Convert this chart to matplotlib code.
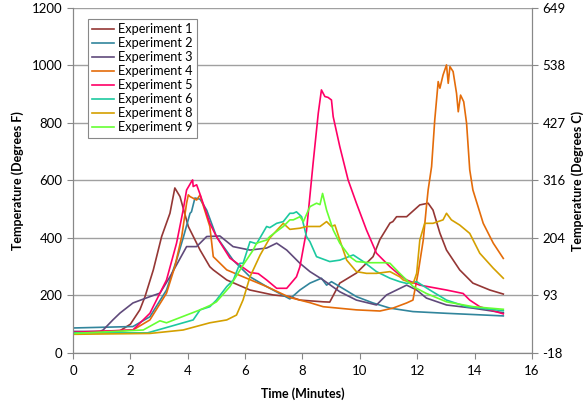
import matplotlib
matplotlib.use("Agg")
import matplotlib.pyplot as plt

# Experiment data (time in minutes, temperature in deg F)
exp1_t = [0, 1.6, 2.0, 2.33, 2.51, 2.80, 3.09, 3.38, 3.55, 3.73, 4.02, 4.31, 4.43, 4.77, 4.89,
          5.36, 6.17, 6.97, 7.56, 7.91, 8.72, 8.95, 9.30, 9.88, 10.46, 10.70, 11.05, 11.15,
          11.28, 11.63, 12.09, 12.38, 12.55, 12.79, 13.02, 13.48, 13.94, 14.53, 15.0]
exp1_T = [72, 75, 100, 150, 196, 289, 405, 486, 574, 544, 440, 382, 358, 300, 289,
          254, 219, 202, 196, 184, 178, 177, 243, 278, 335, 395, 452, 457,
          474, 474, 515, 521, 497, 417, 358, 289, 243, 219, 205]

exp2_t = [0, 2.09, 2.68, 3.26, 3.61, 3.84, 4.08, 4.13, 4.25, 4.43, 4.66, 5.0, 5.58, 6.17,
          6.75, 7.56, 7.91, 8.26, 8.66, 8.84, 9.01, 9.30, 9.88, 10.46, 11.05, 11.85, 13.02, 15.0]
exp2_T = [87, 92, 126, 219, 323, 400, 486, 491, 539, 535, 497, 405, 323, 265,
          231, 188, 219, 243, 260, 236, 248, 231, 196, 174, 156, 144, 138, 129]

exp3_t = [0, 0.94, 1.05, 1.39, 1.64, 2.09, 2.68, 3.03, 3.38, 3.96, 4.31, 4.66, 5.12, 5.58,
          6.17, 6.75, 7.10, 7.45, 7.91, 8.26, 8.72, 9.30, 9.88, 10.58, 10.93, 11.28, 11.63,
          11.98, 12.32, 13.02, 13.94, 15.0]
exp3_T = [75, 75, 80, 115, 139, 174, 196, 208, 265, 370, 370, 405, 407, 370,
          358, 365, 382, 358, 312, 283, 254, 213, 184, 167, 202, 219, 236,
          219, 191, 167, 156, 140]

exp4_t = [0, 2.09, 2.68, 3.26, 3.55, 3.79, 3.96, 4.02, 4.08, 4.31, 4.43, 4.48, 4.77, 4.89,
          5.36, 5.93, 6.75, 7.56, 8.26, 8.72, 9.88, 10.70, 11.15, 11.63, 11.85, 12.03, 12.21,
          12.32, 12.38, 12.50, 12.61, 12.73, 12.79, 12.90, 13.02, 13.08, 13.14, 13.25, 13.37,
          13.43, 13.51, 13.62, 13.72, 13.83, 13.94, 14.30, 14.65, 15.0]
exp4_T = [70, 80, 115, 208, 300, 405, 521, 550, 544, 532, 550, 532, 440, 335,
          289, 265, 231, 193, 175, 161, 150, 146, 156, 174, 184, 278, 393,
          509, 567, 648, 810, 944, 921, 967, 1002, 938, 996, 979, 903,
          839, 897, 874, 799, 637, 567, 451, 382, 329]

exp5_t = [0, 2.09, 2.68, 3.26, 3.61, 3.84, 3.96, 4.13, 4.17, 4.19, 4.31, 4.43, 4.77, 5.0,
          5.47, 6.17, 6.46, 6.75, 7.10, 7.45, 7.79, 7.91, 8.14, 8.37, 8.55, 8.66, 8.78, 8.89,
          9.01, 9.07, 9.30, 9.59, 9.88, 10.23, 10.58, 11.05, 11.39, 11.63, 12.09, 13.02,
          13.60, 13.83, 14.18, 15.0]
exp5_T = [72, 80, 138, 254, 382, 497, 567, 596, 602, 579, 585, 552, 451, 405,
          330, 280, 276, 254, 225, 225, 265, 300, 425, 660, 834, 915, 892, 889,
          880, 822, 718, 602, 521, 428, 347, 300, 271, 254, 236, 219,
          207, 184, 161, 136]

exp6_t = [0, 2.6, 3.38, 4.19, 4.43, 4.77, 5.0, 5.36, 5.59, 5.82, 5.93, 6.17, 6.40, 6.75,
          6.86, 7.10, 7.33, 7.56, 7.68, 7.79, 7.97, 8.14, 8.26, 8.49, 8.95, 9.30, 9.77, 10.12,
          10.58, 11.05, 11.39, 11.63, 11.98, 12.44, 13.02, 13.72, 15.0]
exp6_T = [70, 70, 92, 115, 150, 161, 184, 231, 254, 312, 312, 387, 380, 440,
          436, 451, 457, 486, 486, 491, 474, 405, 387, 335, 318, 323, 341, 318,
          283, 260, 248, 242, 248, 219, 184, 161, 147]

exp8_t = [0, 2.68, 3.84, 4.77, 5.36, 5.70, 5.93, 6.17, 6.52, 6.86, 7.33, 7.56, 7.91, 8.14,
          8.61, 8.84, 9.01, 9.13, 9.30, 9.54, 9.88, 10.23, 10.58, 11.05, 11.39, 11.51, 11.86,
          11.98, 12.09, 12.26, 12.55, 12.90, 13.02, 13.19, 13.48, 13.83, 14.18, 14.65, 15.0]
exp8_T = [65, 68, 80, 105, 115, 132, 185, 265, 340, 400, 451, 430, 434, 440,
          440, 457, 440, 445, 393, 323, 283, 277, 277, 283, 265, 254, 242,
          277, 393, 451, 451, 463, 486, 463, 445, 416, 347, 295, 260]

exp9_t = [0, 2.45, 3.03, 3.26, 3.96, 4.43, 4.77, 5.0, 5.47, 5.93, 6.28, 6.40, 6.75, 6.86,
          7.33, 7.56, 7.68, 7.91, 8.03, 8.26, 8.49, 8.61, 8.70, 8.84, 9.07, 9.30, 9.65, 9.88,
          10.35, 10.93, 11.05, 11.39, 11.86, 12.32, 13.02, 13.95, 15.0]
exp9_T = [68, 80, 112, 105, 132, 150, 165, 178, 231, 306, 358, 382, 393, 405,
          440, 463, 463, 474, 457, 509, 521, 516, 555, 497, 428, 382, 335, 318,
          314, 314, 312, 277, 231, 207, 178, 161, 152]

labels = ["Experiment 1", "Experiment 2", "Experiment 3", "Experiment 4",
          "Experiment 5", "Experiment 6", "Experiment 8", "Experiment 9"]
colors = ["#953735", "#31859C", "#604A7B", "#E46C0A",
          "#FF0066", "#1CC9A0", "#D4A000", "#66FF33"]
series = [(exp1_t, exp1_T), (exp2_t, exp2_T), (exp3_t, exp3_T), (exp4_t, exp4_T),
          (exp5_t, exp5_T), (exp6_t, exp6_T), (exp8_t, exp8_T), (exp9_t, exp9_T)]

yticks_f = [0, 200, 400, 600, 800, 1000, 1200]
xticks = [0, 2, 4, 6, 8, 10, 12, 14, 16]

plt.rcParams['font.family'] = ['Lato', 'DejaVu Sans']

fig = plt.figure(figsize=(5.83, 4.07), dpi=100)
ax = fig.add_axes([0.1252, 0.1327, 0.7873, 0.8477])

for (t, T), lab, c in zip(series, labels, colors):
    ax.plot(t, T, color=c, lw=1.2, label=lab)

ax.set_xlim(0, 16)
ax.set_ylim(0, 1200)
ax.set_xticks(xticks)
ax.set_yticks(yticks_f)
ax.grid(axis='y', color='#A0A0A0', lw=1)
ax.set_axisbelow(True)
ax.tick_params(labelsize=9.5, length=4, color='#888888', direction='out')
ax.tick_params(axis='x', pad=5)
ax.spines['top'].set_visible(False)
for s in ['left', 'right', 'bottom']:
    ax.spines[s].set_color('#888888')

ax.set_xlabel('Time (Minutes)', fontsize=9, fontweight='bold', labelpad=7)
ax.set_ylabel('Temperature (Degrees F)', fontsize=9, fontweight='bold', labelpad=6)

# Celsius axis on the right, aligned with the Fahrenheit gridlines
ax2 = ax.twinx()
ax2.set_ylim(0, 1200)
ax2.set_yticks(yticks_f)
ax2.set_yticklabels([str(round((f - 32) * 5 / 9)) for f in yticks_f])
ax2.tick_params(labelsize=9.5, length=4, color='#888888', direction='out')
ax2.spines['top'].set_visible(False)
for s in ['left', 'right', 'bottom']:
    ax2.spines[s].set_color('#888888')
ax2.set_ylabel('Temperature (Degrees C)', fontsize=9, fontweight='bold', labelpad=4)

leg = ax.legend(loc='upper left', bbox_to_anchor=(0.018, 0.988), fontsize=9.2,
                handlelength=1.7, handletextpad=0.3, labelspacing=0.16,
                borderpad=0.35, fancybox=False, framealpha=1)
leg.get_frame().set_edgecolor('#888888')
leg.get_frame().set_linewidth(0.8)

fig.savefig('out.png', dpi=100)
